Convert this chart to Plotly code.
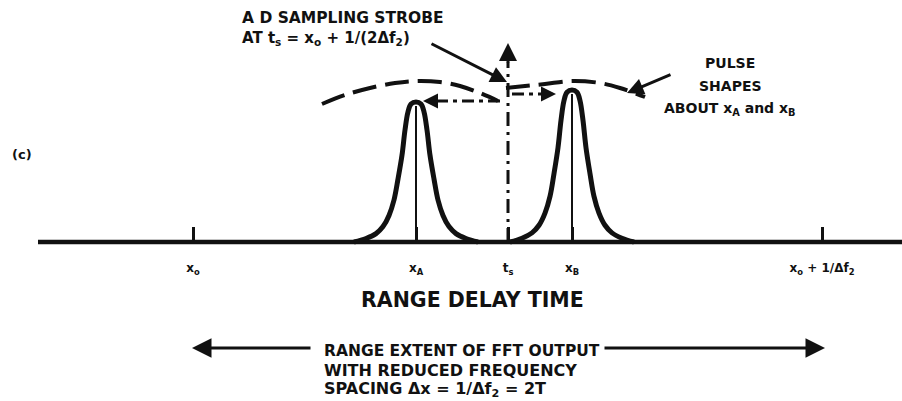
import plotly.graph_objects as go

# ---------------- data (pixel-like units, baseline = 0) -------------
tick_positions = [193, 416, 508, 572, 822]
tick_labels = ["x<sub>o</sub>", "x<sub>A</sub>", "t<sub>s</sub>", "x<sub>B</sub>",
               "x<sub>o</sub> + 1/Δf<sub>2</sub>"]

baseline_x = [38, 902]

pulse_names = ["A", "B"]
pulse_centers = [416, 572]
pulse_heights = [140, 152]
pulse_offsets = [-62, -50, -40, -33, -27, -22, -18, -14, -11, -8, -5, 0,
                 5, 8, 11, 14, 18, 22, 27, 33, 40, 50, 62]
pulse_profile = [0.0, 0.025, 0.06, 0.11, 0.19, 0.30, 0.45, 0.62, 0.80, 0.93, 0.985, 1.0,
                 0.985, 0.93, 0.80, 0.62, 0.45, 0.30, 0.19, 0.11, 0.06, 0.025, 0.0]

arcA_x = [322, 345, 370, 395, 416, 440, 460, 480, 498]
arcA_h = [138, 147, 154, 159, 161, 160, 156, 149, 141]
arcB_x = [506, 525, 545, 572, 600, 620, 645]
arcB_h = [154, 156, 158, 161, 159, 154, 145]

strobe_x = 508
strobe_top = 180

ts_arrow_left = [500, 423]
ts_arrow_left_h = 141
ts_arrow_right = [512, 556]
ts_arrow_right_h = 148

extent_left = [312, 192]
extent_right = [603, 825]
extent_h = -106

# ---------------- figure ----------------
fig = go.Figure()
BLACK = "#111111"
FONT = "DejaVu Sans"

# baseline
fig.add_trace(go.Scatter(x=baseline_x, y=[0, 0], mode="lines",
                         line=dict(color=BLACK, width=4.5), hoverinfo="skip"))

# narrow pulses and their centre lines
for c, h in zip(pulse_centers, pulse_heights):
    fig.add_trace(go.Scatter(x=[c + o for o in pulse_offsets],
                             y=[h * p for p in pulse_profile],
                             mode="lines", line=dict(color=BLACK, width=5, shape="spline"),
                             hoverinfo="skip"))
    fig.add_trace(go.Scatter(x=[c, c], y=[0, h - 4], mode="lines",
                             line=dict(color=BLACK, width=2), hoverinfo="skip"))

# broad dashed pulse shapes
for ax_, ah_ in ((arcA_x, arcA_h), (arcB_x, arcB_h)):
    fig.add_trace(go.Scatter(x=ax_, y=ah_, mode="lines",
                             line=dict(color=BLACK, width=4, dash="24px,9px", shape="spline"),
                             hoverinfo="skip"))

# sampling strobe dash-dot line
fig.add_trace(go.Scatter(x=[strobe_x, strobe_x], y=[0, strobe_top], mode="lines",
                         line=dict(color=BLACK, width=3, dash="14px,6px,3px,6px"),
                         hoverinfo="skip"))

# horizontal dash-dot arrows from strobe
fig.add_trace(go.Scatter(x=[ts_arrow_left[0], ts_arrow_left[1] + 8],
                         y=[ts_arrow_left_h, ts_arrow_left_h], mode="lines",
                         line=dict(color=BLACK, width=3, dash="12px,5px,4px,5px"),
                         hoverinfo="skip"))
fig.add_trace(go.Scatter(x=[ts_arrow_right[0], ts_arrow_right[1] - 8],
                         y=[ts_arrow_right_h, ts_arrow_right_h], mode="lines",
                         line=dict(color=BLACK, width=3, dash="12px,5px,4px,5px"),
                         hoverinfo="skip"))

def arrow(x, y, ax, ay, width=3, size=1.3):
    fig.add_annotation(x=x, y=y, ax=ax, ay=ay, xref="x", yref="y", axref="x", ayref="y",
                       showarrow=True, arrowhead=2, arrowsize=size, arrowwidth=width,
                       arrowcolor=BLACK, text="", standoff=0)

arrow(ts_arrow_left[1], ts_arrow_left_h, ts_arrow_left[1] + 12, ts_arrow_left_h, size=1.0)
arrow(ts_arrow_right[1], ts_arrow_right_h, ts_arrow_right[1] - 12, ts_arrow_right_h, size=1.0)
# strobe up arrow
arrow(strobe_x, 199, strobe_x, strobe_top - 2, size=1.2)
# strobe label arrow
arrow(507, 160, 430, 199, size=1.1)
# pulse shapes arrow
arrow(627, 149, 672, 168, size=1.1)
# range extent arrows
arrow(extent_left[1], extent_h, extent_left[0], extent_h)
arrow(extent_right[1], extent_h, extent_right[0], extent_h)

def text(x, y, s, size, anchor="left"):
    fig.add_annotation(x=x, y=y, xref="x", yref="y", text=s, showarrow=False,
                       xanchor=anchor, yanchor="middle",
                       font=dict(family=FONT, size=size, color=BLACK, weight="bold"))

text(240, 242 - 18, "A D SAMPLING STROBE", 15.5)
text(240, 242 - 38, "AT t<sub>s</sub> = x<sub>o</sub> + 1/(2Δf<sub>2</sub>)", 15)
text(730, 242 - 63, "PULSE", 14, "center")
text(730, 242 - 86, "SHAPES", 14, "center")
text(730, 242 - 109, "ABOUT x<sub>A</sub> and x<sub>B</sub>", 14, "center")
text(10, 242 - 154, "(c)", 13)
text(472, 242 - 300, "RANGE DELAY TIME", 20.5, "center")
text(322, 242 - 351, "RANGE EXTENT OF FFT OUTPUT", 15.5)
text(322, 242 - 370, "WITH REDUCED FREQUENCY", 16)
text(322, 242 - 389, "SPACING Δx = 1/Δf<sub>2</sub> = 2T", 16)

fig.update_layout(
    width=902, height=401, autosize=False,
    margin=dict(l=0, r=0, t=0, b=0),
    paper_bgcolor="white", plot_bgcolor="white",
    showlegend=False,
    xaxis=dict(range=[0, 902], showgrid=False, zeroline=False, showline=False,
               anchor="free", position=159 / 401,
               tickmode="array", tickvals=tick_positions, ticktext=tick_labels,
               ticks="inside", ticklen=15, tickwidth=3, tickcolor=BLACK,
               ticklabelstandoff=17,
               tickfont=dict(family=FONT, size=12, color=BLACK, weight="bold"),
               fixedrange=True),
    yaxis=dict(range=[-159, 242], visible=False, fixedrange=True),
)

fig.write_html("out.html", config={"displayModeBar": False},
               post_script="document.body.style.margin='0';"
                           "document.body.style.overflow='hidden';")
